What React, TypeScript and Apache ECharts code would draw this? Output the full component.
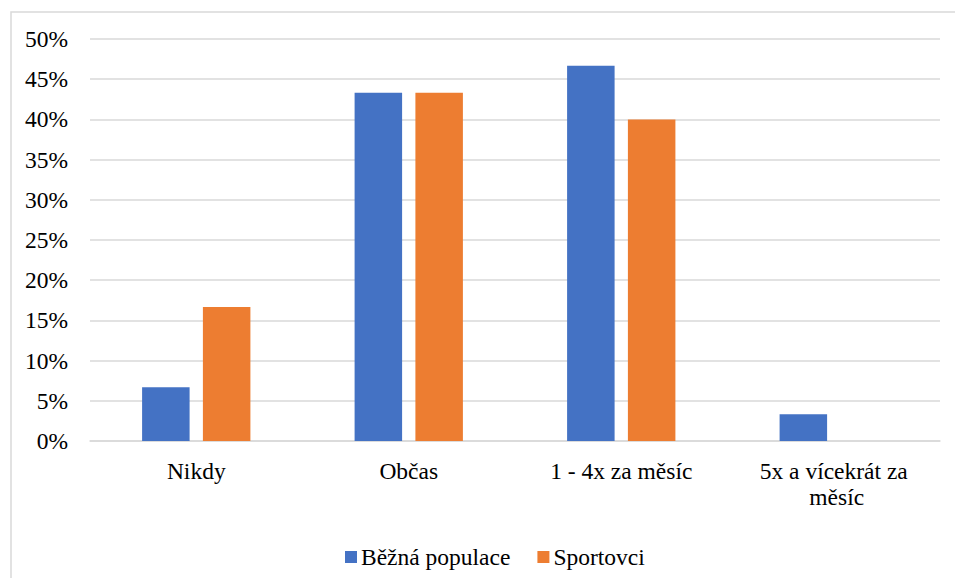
import React, { useEffect, useRef } from "react";
import * as echarts from "echarts";

const categories = ["Nikdy", "Občas", "1 - 4x za měsíc", "5x a vícekrát za měsíc"];
const seriesNames = ["Běžná populace", "Sportovci"];
const bezna = [6.67, 43.33, 46.67, 3.33];
const sportovci = [16.67, 43.33, 40.0, 0];
const yMin = 0;
const yMax = 50;
const yStep = 5;

const FONT = "serif";

export default function App() {
  const ref = useRef<HTMLDivElement>(null);
  useEffect(() => {
    if (!ref.current) return;
    const chart = echarts.init(ref.current, undefined, { renderer: "svg" });
    chart.setOption({
      animation: false,
      textStyle: { fontFamily: FONT },
      graphic: [
        {
          type: "rect",
          left: 8.5,
          top: 9.5,
          shape: { x: 0, y: 0, width: 960, height: 600 },
          style: { fill: "none", stroke: "#d9d9d9", lineWidth: 1.5 },
          silent: true,
          z: -10,
        },
      ],
      grid: { left: 90, right: 15, top: 39, bottom: 137, containLabel: false },
      legend: {
        data: seriesNames,
        left: 340,
        top: 540,
        itemWidth: 12,
        itemHeight: 12,
        itemGap: 27,
        icon: "rect",
        textStyle: { fontFamily: FONT, fontSize: 23.5, color: "#000", padding: [0, 0, 0, -1] },
      },
      xAxis: {
        type: "category",
        data: categories,
        axisLine: { show: true, lineStyle: { color: "#d9d9d9", width: 1.5 } },
        axisTick: { show: false },
        axisLabel: {
          fontFamily: FONT,
          fontSize: 23.5,
          color: "#000",
          margin: 17,
          lineHeight: 26,
          width: 180,
          overflow: "break",
          interval: 0,
        },
      },
      yAxis: {
        type: "value",
        min: yMin,
        max: yMax,
        interval: yStep,
        axisLine: { show: false },
        axisTick: { show: false },
        splitLine: { lineStyle: { color: "#d9d9d9", width: 1.5 } },
        axisLabel: {
          formatter: "{value}%",
          fontFamily: FONT,
          fontSize: 23.5,
          color: "#000",
          margin: 22,
        },
      },
      series: [
        {
          name: seriesNames[0],
          type: "bar",
          data: bezna,
          barWidth: 47.5,
          barGap: "28%",
          itemStyle: { color: "#4472C4" },
        },
        {
          name: seriesNames[1],
          type: "bar",
          data: sportovci,
          barWidth: 47.5,
          barGap: "28%",
          itemStyle: { color: "#ED7D31" },
        },
      ],
    });
    return () => chart.dispose();
  }, []);
  return <div ref={ref} style={{ width: 955, height: 578, position: "absolute", left: 0, top: 0 }} />;
}
